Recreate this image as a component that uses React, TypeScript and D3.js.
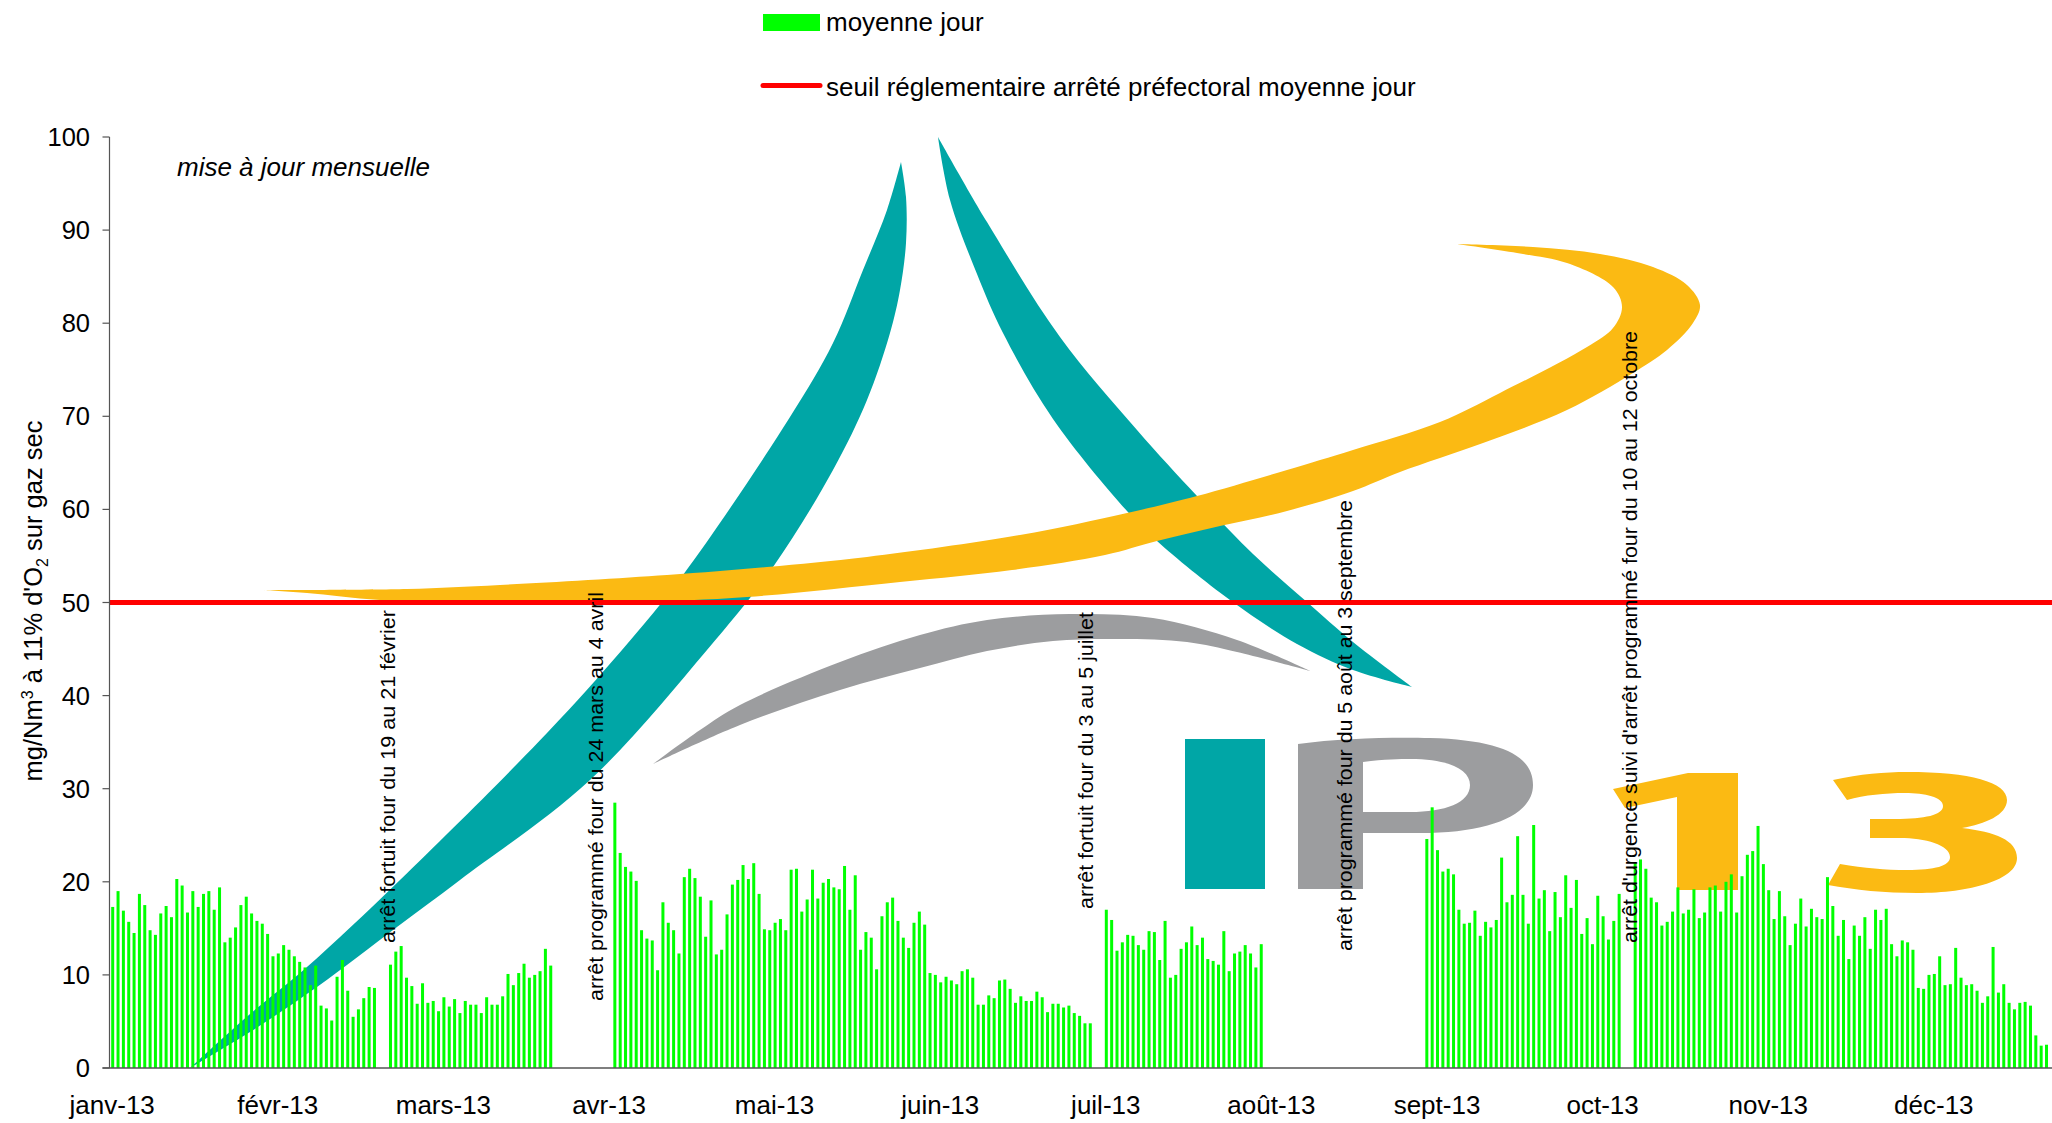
import React from "react";
import * as d3 from "d3";

const W = 2052;
const H = 1123;

const monthLabels = ["janv-13","févr-13","mars-13","avr-13","mai-13","juin-13","juil-13","août-13","sept-13","oct-13","nov-13","déc-13"];
const yTicks = [0,10,20,30,40,50,60,70,80,90,100];
const threshold = 50;

// Daily means, one run per period of furnace operation; day index 0 = 1 Jan 2013
const run1Start = 0;
const run1 = [17.3,19.0,16.9,15.7,14.5,18.7,17.5,14.8,14.3,16.6,17.4,16.2,20.3,19.6,16.7,19.0,17.3,18.7,19.0,17.0,19.4,13.5,14.0,15.1,17.5,18.4,16.6,15.8,15.5,14.4,12.0,12.3,13.2,12.7,12.0,11.4,10.8,8.9,11.0,6.7,6.4,5.1,9.8,11.6,8.3,5.5,6.3,7.5,8.7,8.6];
const run2Start = 52;
const run2 = [11.1,12.5,13.1,9.7,8.8,6.9,9.1,7.0,7.2,6.1,7.6,6.6,7.4,5.9,7.2,6.8,6.8,5.9,7.6,6.8,6.8,7.7,10.1,8.9,10.2,11.2,9.7,10.0,10.4,12.8,11.0];
const run3Start = 94;
const run3 = [28.5,23.1,21.6,21.1,20.1,14.8,13.9,13.7,10.5,17.8,15.6,14.8,12.3,20.5,21.4,20.4,18.4,14.1,18.0,12.2,12.7,16.5,19.7,20.2,21.8,20.3,22.0,18.7,14.9,14.8,15.6,16.0,14.8,21.3,21.4,16.8,18.1,21.3,18.2,19.9,20.3,19.4,19.2,21.7,17.0,20.7,12.7,14.6,14.0,10.6,16.3,17.8,18.3,15.8,14.0,12.9,15.6,16.8,15.4,10.2,10.0,9.2,9.8,9.4,9.0,10.4,10.6,9.7,6.8,6.8,7.8,7.5,9.4,9.5,8.5,7.0,7.7,7.2,7.2,8.2,7.6,6.0,6.9,6.9,6.5,6.7,5.9,5.6,4.8,4.8];
const run4Start = 186;
const run4 = [17.0,15.9,12.6,13.5,14.3,14.2,13.2,12.7,14.7,14.6,11.6,15.8,9.7,10.0,12.8,13.5,15.2,13.2,14.0,11.7,11.5,11.1,14.7,10.4,12.3,12.5,13.2,12.3,10.8,13.3];
const run5Start = 246;
const run5 = [24.6,28.0,23.4,21.1,21.4,20.8,17.0,15.5,15.6,16.9,14.2,15.7,15.1,15.9,22.6,17.8,18.6,24.9,18.6,15.5,26.1,18.2,19.1,14.7,18.9,16.2,20.7,17.2,20.2,14.4,16.1,13.3,18.5,16.3,13.8,15.8,18.7];
const run6Start = 285;
const run6 = [22.0,22.4,21.4,18.3,17.8,15.3,15.7,16.8,19.4,16.6,17.0,19.2,16.1,16.7,19.4,19.6,16.8,20.0,20.8,16.7,20.6,22.9,23.3,26.0,21.9,19.1,16.0,19.0,16.3,13.2,15.5,18.2,15.2,17.1,16.2,16.0,20.5,17.4,14.2,15.9,11.7,15.3,14.2,16.2,12.8,17.0,15.9,17.1,13.3,12.0,13.7,13.5,12.7,8.6,8.5,10.0,10.1,12.0,8.9,9.0,12.9,9.7,8.9,9.0,8.3,7.0,7.7,13.0,8.1,9.0,7.0,6.3,7.0,7.1,6.7,3.5,2.4,2.5];

const runs: [number, number[]][] = [[run1Start,run1],[run2Start,run2],[run3Start,run3],[run4Start,run4],[run5Start,run5],[run6Start,run6]];

const annotations = [
  { text: "arrêt fortuit four du 19 au 21 février", x: 394.5, y: 943, len: 333 },
  { text: "arrêt programmé four du 24 mars au 4 avril", x: 603, y: 1001, len: 409 },
  { text: "arrêt fortuit four du 3 au 5 juillet", x: 1093, y: 909, len: 297 },
  { text: "arrêt programmé four du 5 août au 3 septembre", x: 1351.5, y: 951, len: 451 },
  { text: "arrêt d'urgence suivi d'arrêt programmé four du 10 au 12 octobre", x: 1637, y: 943, len: 612 },
];

// Background logo outlines (decorative picture behind the chart)
type P = [number, number];
const tealLeftUpper: P[] = [[190,1068],[250,1014],[307,967],[400,880],[547,733],[622,650],[683,575],[790,417],[833,343],[863,270],[887,210],[901,162]];
const tealLeftLower: P[] = [[901,162],[906,197],[906,243],[900,290],[890,333],[867,400],[833,470],[773,567],[707,650],[590,780],[460,880],[397,927],[317,987],[250,1032],[190,1068]];
const tealRightUpper: P[] = [[938,137],[987,222],[1060,337],[1137,430],[1197,496],[1253,554],[1307,602],[1353,642],[1412,687]];
const tealRightLower: P[] = [[1412,687],[1353,670],[1297,644],[1230,600],[1157,541],[1127,511],[1053,419],[1003,333],[977,274],[950,200],[938,137]];
const grayUpper: P[] = [[653,764],[700,730],[740,705],[840,662],[920,635],[987,620],[1070,614],[1153,618],[1237,640],[1310,671]];
const grayLower: P[] = [[1310,671],[1237,652],[1187,642],[1120,639],[1053,641],[987,651],[920,668],[840,690],[740,725],[653,764]];
const orangeUpper: P[] = [[263,590],[407,589],[500,585],[667,575],[767,567],[867,557],[1020,535],[1127,513],[1197,496],[1287,470],[1353,450],[1440,422],[1500,393],[1587,347],[1613,328],[1622,307],[1613,287],[1567,263],[1517,253],[1457,244]];
const orangeLower: P[] = [[1457,244],[1533,247],[1600,254],[1653,267],[1687,285],[1700,305],[1693,323],[1667,350],[1633,373],[1567,410],[1483,443],[1400,472],[1353,491],[1287,511],[1220,526],[1157,541],[1105,555],[1012,570],[900,582],[747,597],[633,602],[500,602],[380,600],[307,593],[263,590]];
const letterI: P[] = [[1185,739],[1265,739],[1265,889],[1185,889]];
const letterP = "M1298,889 V744 C1340,738 1395,737 1430,738 C1500,740 1533,755 1533,785 C1533,815 1490,833 1420,833 H1363 V889 Z M1363,762 C1385,759 1400,759 1410,759 C1450,759 1470,770 1470,785 C1470,803 1445,812 1410,812 H1363 Z";
const letter1: P[] = [[1613,789],[1688,773],[1738,773],[1738,890],[1677,890],[1677,797],[1625,808]];
const letter3 = "M1833,780 C1860,774 1885,772 1907,772 C1970,772 2007,782 2007,800 C2007,815 1985,824 1962,828 C1995,832 2017,840 2017,858 C2017,880 1970,893 1917,893 C1885,893 1855,890 1828,885 L1840,864 C1865,868 1885,870 1907,870 C1935,870 1950,866 1950,857 C1950,845 1925,838 1900,838 H1870 V819 H1895 C1925,819 1943,815 1943,806 C1943,797 1925,793 1905,793 C1885,793 1865,795 1847,800 Z";

const TEAL = "#00A6A6";
const ORANGE = "#FBBA13";
const GRAY = "#9C9D9F";
const GREEN = "#00FF00";
const RED = "#FF0000";
const AXIS = "#555";
const FONT = "'Liberation Sans', Arial, sans-serif";

const edge = d3.line<P>().x(d => d[0]).y(d => d[1]).curve(d3.curveCatmullRom.alpha(0.5));
const blade = (a: P[], b: P[]) => (edge(a) || "") + "L" + (edge(b) || "").slice(1) + "Z";
const poly = d3.line<P>().x(d => d[0]).y(d => d[1]);

export default function App() {
  const x = d3.scaleLinear().domain([0, 364]).range([111.2, 111.2 + 364 * 5.342]);
  const y = d3.scaleLinear().domain([0, 100]).range([1068, 137]);
  const barW = 3;
  const bars = runs.flatMap(([start, vals]) => vals.map((v, i) => ({ day: start + i, v })));
  const axisX = x(0) - 1.7;

  return (
    <svg width={W} height={H} viewBox={`0 0 ${W} ${H}`} style={{ position: "absolute", left: 0, top: 0, background: "#fff" }} fontFamily={FONT}>
      {/* logo */}
      <g>
        <path d={blade(tealLeftUpper, tealLeftLower)} fill={TEAL} />
        <path d={blade(tealRightUpper, tealRightLower)} fill={TEAL} />
        <path d={blade(grayUpper, grayLower)} fill={GRAY} />
        <path d={blade(orangeUpper, orangeLower)} fill={ORANGE} />
        <path d={(poly(letterI) || "") + "Z"} fill={TEAL} />
        <path d={letterP} fill={GRAY} fillRule="evenodd" />
        <path d={(poly(letter1) || "") + "Z"} fill={ORANGE} />
        <path d={letter3} fill={ORANGE} />
      </g>

      {/* bars */}
      <g fill={GREEN}>
        {bars.map(b => (
          <rect key={b.day} x={x(b.day)} y={y(b.v)} width={barW} height={y(0) - y(b.v)} />
        ))}
      </g>

      {/* threshold */}
      <line x1={axisX} x2={W} y1={y(threshold)} y2={y(threshold)} stroke={RED} strokeWidth={5} />

      {/* axes */}
      <line x1={axisX} x2={axisX} y1={y(100)} y2={y(0)} stroke={AXIS} strokeWidth={1.2} />
      <line x1={axisX - 7} x2={W} y1={y(0)} y2={y(0)} stroke={AXIS} strokeWidth={1.6} />
      {yTicks.map(t => (
        <g key={t}>
          <line x1={axisX - 7} x2={axisX} y1={y(t)} y2={y(t)} stroke={AXIS} strokeWidth={1.2} />
          <text x={90} y={y(t) + 9} textAnchor="end" fontSize={25.5} fill="#000">{t}</text>
        </g>
      ))}
      {monthLabels.map((m, i) => (
        <text key={m} x={x(i * 31) + 1} y={1114} textAnchor="middle" fontSize={26} fill="#000">{m}</text>
      ))}

      {/* y title */}
      <text transform="translate(42,601) rotate(-90)" textAnchor="middle" fontSize={25.5} fill="#000">
        mg/Nm<tspan dy={-9} fontSize={16}>3</tspan><tspan dy={9}> à 11% d'O</tspan><tspan dy={6} fontSize={16}>2</tspan><tspan dy={-6}> sur gaz sec</tspan>
      </text>

      <text x={177} y={176} fontSize={26} fontStyle="italic" fill="#000">mise à jour mensuelle</text>

      {/* annotations */}
      {annotations.map(a => (
        <text key={a.text} transform={`translate(${a.x},${a.y}) rotate(-90)`} fontSize={21} fill="#000" textLength={a.len} lengthAdjust="spacingAndGlyphs">{a.text}</text>
      ))}

      {/* legend */}
      <rect x={763} y={14} width={57} height={17} fill={GREEN} />
      <text x={826} y={31} fontSize={26} fill="#000">moyenne jour</text>
      <line x1={763} x2={820} y1={85.5} y2={85.5} stroke={RED} strokeWidth={5} strokeLinecap="round" />
      <text x={826} y={96} fontSize={26} fill="#000">seuil réglementaire arrêté préfectoral moyenne jour</text>
    </svg>
  );
}
